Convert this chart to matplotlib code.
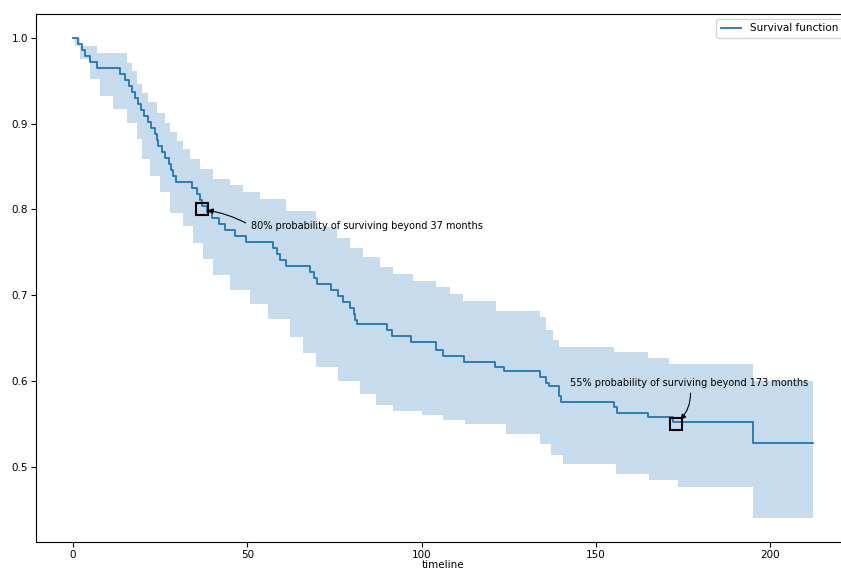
import numpy as np
import matplotlib
matplotlib.use("Agg")
import matplotlib.pyplot as plt

# Kaplan-Meier estimate (months, survival probability)
km_times = [0, 1.5, 2.5, 3.5, 5, 7, 13.5, 15, 16, 17, 17.8, 18.5, 19.5, 20.5,
            21.5, 22.5, 23.5, 24, 24.5, 25.5, 26.5, 27.5, 28, 28.7, 29.5, 34,
            35.5, 36.5, 37, 38.5, 40, 42, 43.5, 46.5, 49.5, 57.4, 58.5, 59.5,
            61, 68, 69, 70, 74, 76, 77.5, 79.5, 80.5, 81, 81.5, 90, 91.5, 97,
            104, 106, 112, 121, 123.5, 134, 135.5, 136.5, 139.5, 140, 155, 156,
            165, 172, 195, 212.2]
km_surv = [1.000, 0.993, 0.986, 0.979, 0.972, 0.965, 0.958, 0.951, 0.944, 0.937,
           0.930, 0.923, 0.916, 0.909, 0.902, 0.895, 0.888, 0.881, 0.874, 0.867,
           0.860, 0.853, 0.846, 0.839, 0.832, 0.825, 0.818, 0.811, 0.804, 0.797,
           0.790, 0.783, 0.776, 0.769, 0.762, 0.755, 0.748, 0.741, 0.734, 0.727,
           0.720, 0.713, 0.706, 0.699, 0.692, 0.685, 0.678, 0.671, 0.666, 0.659,
           0.652, 0.645, 0.636, 0.629, 0.622, 0.616, 0.612, 0.605, 0.598, 0.594,
           0.582, 0.575, 0.569, 0.563, 0.558, 0.552, 0.527, 0.527]

# confidence band edges
upper_times = [0, 2, 6.8, 15.4, 16.8, 18.3, 19.7, 21.6, 24, 26.4, 27.8, 29.7,
               31.6, 33.5, 36.4, 40.2, 45, 48.8, 53.6, 61.2, 69.8, 75.6, 79.5,
               83.2, 88, 91.8, 97.5, 104.2, 108, 111.8, 121.4, 133.8, 135.7,
               137.5, 139.5, 155, 165, 171, 195]
upper_ci = [1.000, 0.991, 0.983, 0.971, 0.962, 0.946, 0.936, 0.925, 0.913, 0.901,
            0.890, 0.880, 0.870, 0.859, 0.847, 0.835, 0.828, 0.820, 0.812, 0.798,
            0.779, 0.767, 0.755, 0.744, 0.733, 0.725, 0.717, 0.709, 0.701, 0.693,
            0.682, 0.674, 0.659, 0.648, 0.639, 0.634, 0.627, 0.620, 0.600]

lower_times = [0, 0.6, 2, 4.9, 7.7, 11.5, 15.4, 18.3, 19.7, 22.1, 24.9, 27.8,
               31.6, 34.5, 37.3, 40.2, 45, 50.7, 56, 62.2, 66, 69.8, 76, 82.2,
               87, 91.8, 100, 106, 112.3, 124.3, 133.8, 137, 140.5, 155.8, 165.3,
               173.4, 195]
lower_ci = [1.000, 0.991, 0.975, 0.952, 0.932, 0.917, 0.901, 0.882, 0.859, 0.839,
            0.820, 0.796, 0.781, 0.761, 0.742, 0.723, 0.706, 0.690, 0.672, 0.651,
            0.632, 0.616, 0.600, 0.585, 0.572, 0.565, 0.560, 0.554, 0.550, 0.538,
            0.526, 0.514, 0.503, 0.491, 0.484, 0.476, 0.440]

marks = [(37, 0.80), (173, 0.55)]
notes = ["80% probability of surviving beyond 37 months",
         "55% probability of surviving beyond 173 months"]


def step_value(t_edges, vals, grid):
    idx = np.searchsorted(t_edges, grid, side="right") - 1
    return np.asarray(vals)[idx]


grid = np.unique(np.concatenate([km_times, upper_times, lower_times]))
band_hi = step_value(upper_times, upper_ci, grid)
band_lo = step_value(lower_times, lower_ci, grid)

fig = plt.figure(figsize=(8.41, 5.72), dpi=100)
ax = fig.add_axes([36 / 841, 30 / 572, 814 / 841, 528 / 572])

ax.step(km_times, km_surv, where="post", color="C0", lw=1.3, label="Survival function")
ax.fill_between(grid, band_lo, band_hi, step="post", color="C0", alpha=0.25, lw=0)

for (mx, my), txt, xy_text, arc in zip(marks, notes, [(51, 0.781), (142.5, 0.598)],
                                        ["arc3,rad=0.1", "arc3,rad=-0.3"]):
    ax.plot(mx, my, "s", ms=8, mfc="none", mec="black", mew=1.5)
    relpos = (0, 0.5) if mx < 100 else (0.5, 0.5)
    ax.annotate(txt, xy=(mx, my), xytext=xy_text, ha="left", va="center",
                fontsize=7,
                arrowprops=dict(arrowstyle="-|>", color="black", lw=0.8,
                                mutation_scale=8, relpos=relpos,
                                connectionstyle=arc, shrinkA=2, shrinkB=4))

ax.set_xlabel("timeline", fontsize=7.5, labelpad=0)
ax.tick_params(labelsize=7.5, length=3.5, pad=2)
ax.legend(loc="upper right", fontsize=7.5, bbox_to_anchor=(0.997, 1.0))

fig.savefig("out.png", dpi=100)
